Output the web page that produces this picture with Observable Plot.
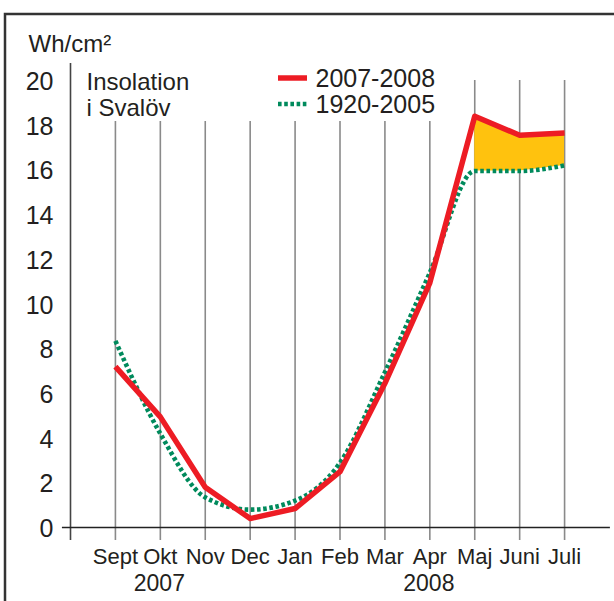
<!DOCTYPE html>
<html><head><meta charset="utf-8">
<script src="https://cdn.jsdelivr.net/npm/d3@7"></script>
<script src="https://cdn.jsdelivr.net/npm/@observablehq/plot@0.6"></script>
<style>body{margin:0;background:#fff}</style>
</head><body><div id="chart"></div>
<script>
const months = ["Sept","Okt","Nov","Dec","Jan","Feb","Mar","Apr","Maj","Juni","Juli"];
const insolation2007_2008 = [7.2, 4.95, 1.8, 0.4, 0.85, 2.5, 6.45, 10.95, 18.4, 17.55, 17.65];
const insolation1920_2005 = [8.35, 4.2, 1.35, 0.8, 1.2, 2.9, 6.95, 11.4, 15.95, 15.95, 16.2];
const yTicks = [0, 2, 4, 6, 8, 10, 12, 14, 16, 18, 20];
const yearLabels = ["2007", "2008"];
const yearMonths = ["Okt", "Apr"];
const seriesNames = ["2007-2008", "1920-2005"];
const unitLabel = "Wh/cm²";
const titleLines = ["Insolation", "i Svalöv"];

const idx = months.map((d, i) => i);
const summer = idx.filter(i => months[i] === "Maj" || months[i] === "Juni" || months[i] === "Juli");
const font = "Liberation Sans, Arial, Helvetica, sans-serif";
const ink = "#231f20";
const mid = {lineAnchor: "middle", fill: ink};

const chart = Plot.plot({
  width: 614,
  height: 601,
  marginLeft: 70,
  marginRight: 5,
  marginTop: 63,
  marginBottom: 61,
  style: {fontFamily: font, background: "white", overflow: "visible"},
  x: {domain: [-1, 11], axis: null},
  y: {domain: [-0.58, 20.76], axis: null},
  marks: [
    Plot.ruleX(idx, {x: d => d, y1: -0.58, y2: d => d >= 8 ? 20 : 18.17, stroke: "#8a8a8a", strokeWidth: 1.6}),
    Plot.ruleX([-1], {stroke: "#444", strokeWidth: 1.6}),
    Plot.ruleY([0], {x1: -1.18, x2: 11.02, stroke: "#222", strokeWidth: 1.6}),
    Plot.areaY(summer, {x: d => d, y1: i => insolation1920_2005[i], y2: i => insolation2007_2008[i], fill: "#ffc20e"}),
    Plot.line(idx, {x: d => d, y: i => insolation1920_2005[i], stroke: "#008a5c", strokeWidth: 4.6,
      strokeDasharray: "3.6 2.6", strokeLinecap: "butt", curve: "monotone-x"}),
    Plot.line(idx, {x: d => d, y: i => insolation2007_2008[i], stroke: "#ed1c24", strokeWidth: 5.5,
      strokeLinejoin: "round", strokeLinecap: "butt"}),
    Plot.text(yTicks, {...mid, y: d => d, text: d => String(d), frameAnchor: "left", textAnchor: "end",
      dx: -17, dy: 1.5, fontSize: 25}),
    Plot.text(months, {...mid, x: (d, i) => i, text: d => d, frameAnchor: "bottom", dy: 16.5, fontSize: 22}),
    Plot.text(yearLabels, {...mid, x: (d, i) => months.indexOf(yearMonths[i]), text: d => d, frameAnchor: "bottom",
      dx: -1, dy: 43.5, fontSize: 23}),
    Plot.text([unitLabel], {...mid, text: d => d, frameAnchor: "top-left", textAnchor: "start", dx: -42, dy: -19,
      fontSize: 24}),
    Plot.text([titleLines[0]], {...mid, text: d => d, frameAnchor: "top-left", textAnchor: "start",
      dx: 16, dy: 19, fontSize: 24}),
    Plot.text([titleLines[1]], {...mid, text: d => d, frameAnchor: "top-left", textAnchor: "start",
      dx: 16, dy: 45, fontSize: 24}),
    Plot.text([seriesNames[0]], {...mid, text: d => d, frameAnchor: "top-left", textAnchor: "start", dx: 245, dy: 15,
      fontSize: 25}),
    Plot.text([seriesNames[1]], {...mid, text: d => d, frameAnchor: "top-left", textAnchor: "start", dx: 245, dy: 41,
      fontSize: 25})
  ]
});

const svg = d3.select(chart);
// outer frame (left and top edges)
svg.append("path").attr("d", "M5,601V14H614").attr("fill", "none").attr("stroke", "#333").attr("stroke-width", 2.5);
// legend swatches
svg.append("line").attr("x1", 278).attr("x2", 307).attr("y1", 78).attr("y2", 78)
  .attr("stroke", "#ed1c24").attr("stroke-width", 5.5);
svg.append("line").attr("x1", 278).attr("x2", 307).attr("y1", 104).attr("y2", 104)
  .attr("stroke", "#008a5c").attr("stroke-width", 4.6).attr("stroke-dasharray", "3.6 2.6");

document.getElementById("chart").appendChild(chart);
</script>
</body></html>
